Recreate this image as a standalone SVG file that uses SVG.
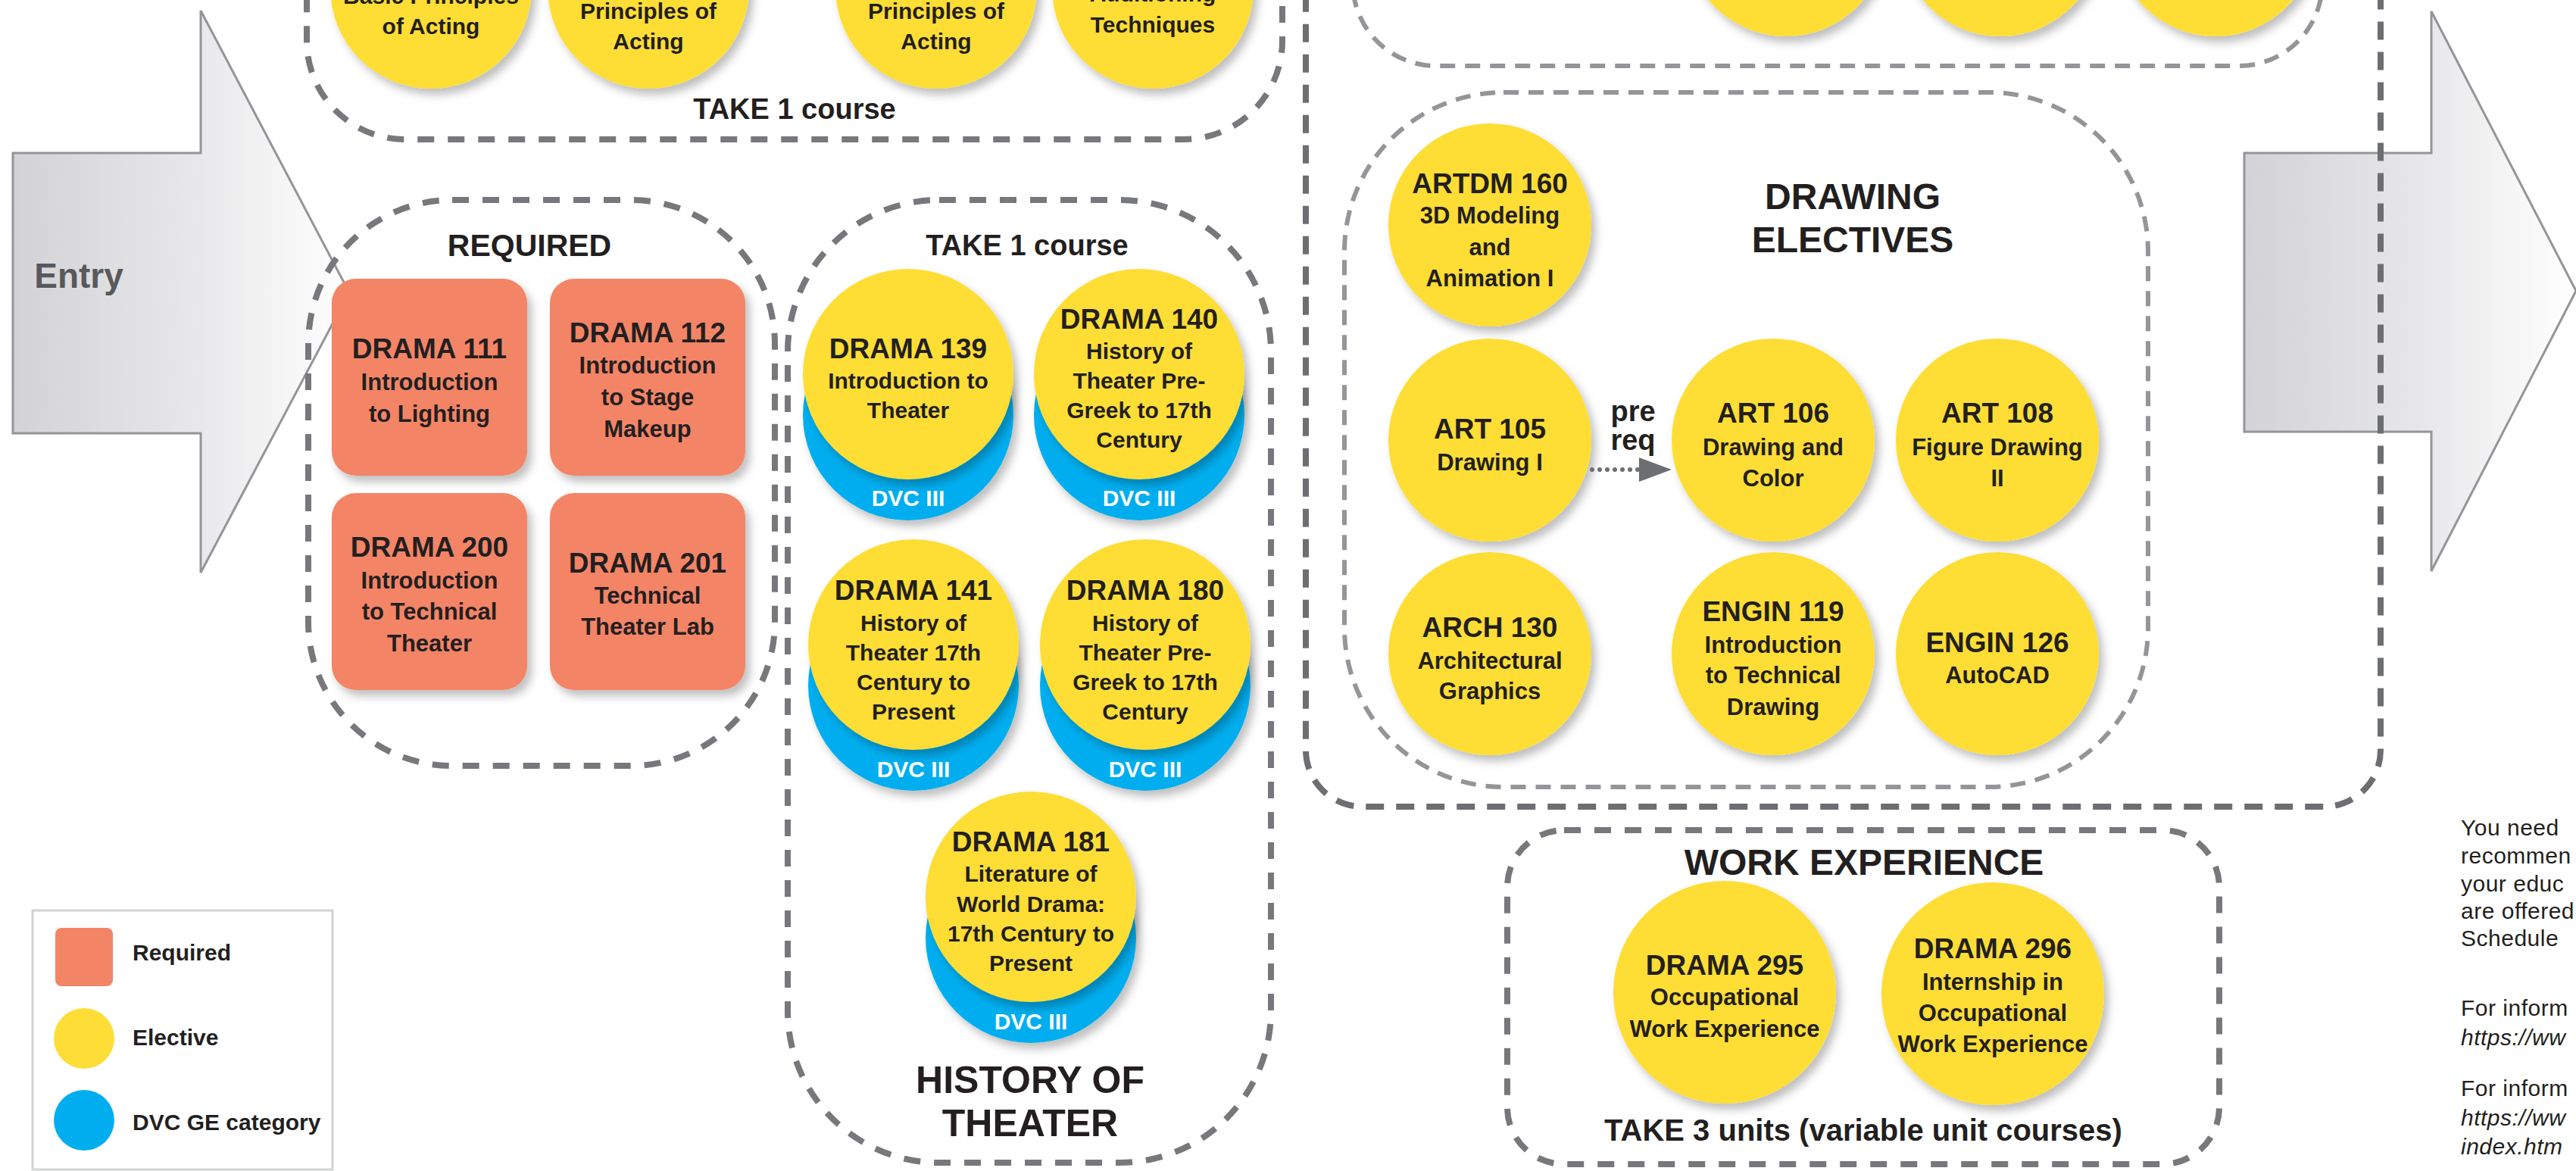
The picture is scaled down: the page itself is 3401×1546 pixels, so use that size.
<svg xmlns="http://www.w3.org/2000/svg" width="3401" height="1546" viewBox="0 0 3401 1546">
<style>
.t{font-family:"Liberation Sans",Arial,sans-serif;font-weight:bold;fill:#231f20;text-anchor:middle}
.h{font-size:37px}
.s{font-size:31px}
.s2{font-size:30px}
.dvc{font-size:30px;fill:#fff}
.big{font-size:48px}
.mid{font-size:38px}
.grp{fill:none;stroke:#77787b;stroke-width:8;stroke-dasharray:22 18}
.outer{fill:none;stroke:#6d6e71;stroke-width:8;stroke-dasharray:24 16}
.grp2{fill:none;stroke:#939598;stroke-width:6;stroke-dasharray:20 13}
.y{fill:#fedd36;filter:url(#sh)}
.b{fill:#00aeef;filter:url(#sh)}
.o{fill:#f48466;filter:url(#sh)}
.arrow{fill:url(#ag);stroke:#939598;stroke-width:3}
.note{font-family:"Liberation Sans",Arial,sans-serif;font-size:30px;letter-spacing:0.5px;fill:#231f20}
.it{font-style:italic}
.leg{font-family:"Liberation Sans",Arial,sans-serif;font-weight:bold;font-size:30px;fill:#231f20}
</style>
<defs>
<filter id="sh" x="-20%" y="-20%" width="150%" height="150%">
<feDropShadow dx="6" dy="8" stdDeviation="6" flood-color="#000" flood-opacity="0.25"/>
</filter>
<linearGradient id="ag" x1="0" y1="0" x2="1" y2="0">
<stop offset="0" stop-color="#d3d3d7"/>
<stop offset="0.55" stop-color="#e8e8ea"/>
<stop offset="1" stop-color="#ffffff"/>
</linearGradient>
</defs>
<rect width="3401" height="1546" fill="#fff"/>

<g id="entry-arrow">
<path class="arrow" d="M17,202 H265 V14 L461,386 L265,756 V572 H17 Z"/>
<text x="104" y="380" style="font-family:'Liberation Sans',Arial,sans-serif;font-weight:bold;font-size:46px;fill:#58595b;text-anchor:middle">Entry</text>
</g>
<g id="exit-arrow">
<path class="arrow" d="M2963,202 H3210 V15 L3401,384 L3210,754 V570 H2963 Z"/>
</g>

<g id="groups">
<rect id="acting-box" class="grp" x="405" y="-250" width="1288" height="434" rx="130"/>
<rect id="required-box" class="grp" x="407" y="264" width="616" height="747" rx="190"/>
<rect id="history-box" class="grp" x="1040" y="264" width="638" height="1271" rx="200"/>
<rect id="outer-box" class="outer" x="1724" y="-300" width="1419" height="1365" rx="75"/>
<rect id="top-right-box" class="grp2" x="1786" y="-300" width="1280" height="387" rx="110"/>
<rect id="drawing-box" class="grp2" x="1775" y="122" width="1061" height="917" rx="210"/>
<rect id="work-box" class="grp" x="1990" y="1096" width="940" height="441" rx="75"/>
</g>

<g id="labels">
<text class="t mid" x="1049" y="157">TAKE 1 course</text>
<text class="t" style="font-size:41px" x="699" y="338">REQUIRED</text>
<text class="t mid" x="1356" y="337">TAKE 1 course</text>
<text class="t" style="font-size:50px" x="1360" y="1443">HISTORY OF</text>
<text class="t" style="font-size:50px" x="1360" y="1500">THEATER</text>
<text class="t big" x="2446" y="276">DRAWING</text>
<text class="t big" x="2446" y="333">ELECTIVES</text>
<text class="t big" x="2461" y="1155">WORK EXPERIENCE</text>
<text class="t" style="font-size:40px" x="2460" y="1506">TAKE 3 units (variable unit courses)</text>
</g>

<g id="acting1"><circle class="y" cx="569" cy="-16" r="133"/>
<text class="t s2" x="569" y="5">Basic Principles</text><text class="t s2" x="569" y="45">of Acting</text></g>
<g id="acting2"><circle class="y" cx="856" cy="-16" r="133"/>
<text class="t s2" x="856" y="25">Principles of</text><text class="t s2" x="856" y="65">Acting</text></g>
<g id="acting3"><circle class="y" cx="1236" cy="-16" r="133"/>
<text class="t s2" x="1236" y="25">Principles of</text><text class="t s2" x="1236" y="65">Acting</text></g>
<g id="acting4"><circle class="y" cx="1522" cy="-16" r="133"/>
<text class="t s2" x="1522" y="2">Auditioning</text><text class="t s2" x="1522" y="43">Techniques</text></g>

<g id="top-c1"><circle class="y" cx="2358" cy="-85" r="133"/></g>
<g id="top-c2"><circle class="y" cx="2641" cy="-85" r="133"/></g>
<g id="top-c3"><circle class="y" cx="2925" cy="-85" r="133"/></g>

<g id="drama111"><rect class="o" x="438" y="368" width="258" height="260" rx="32"/>
<text class="t h" x="567" y="473">DRAMA 111</text><text class="t s" x="567" y="515">Introduction</text><text class="t s" x="567" y="557">to Lighting</text></g>
<g id="drama112"><rect class="o" x="726" y="368" width="258" height="260" rx="32"/>
<text class="t h" x="855" y="452">DRAMA 112</text><text class="t s" x="855" y="493">Introduction</text><text class="t s" x="855" y="535">to Stage</text><text class="t s" x="855" y="577">Makeup</text></g>
<g id="drama200"><rect class="o" x="438" y="651" width="258" height="260" rx="32"/>
<text class="t h" x="567" y="735">DRAMA 200</text><text class="t s" x="567" y="777">Introduction</text><text class="t s" x="567" y="818">to Technical</text><text class="t s" x="567" y="860">Theater</text></g>
<g id="drama201"><rect class="o" x="726" y="651" width="258" height="260" rx="32"/>
<text class="t h" x="855" y="756">DRAMA 201</text><text class="t s" x="855" y="797">Technical</text><text class="t s" x="855" y="838">Theater Lab</text></g>

<g id="drama139"><circle class="b" cx="1199" cy="548" r="139"/><circle class="y" cx="1199" cy="494" r="139"/>
<text class="t h" x="1199" y="473">DRAMA 139</text><text class="t s2" x="1199" y="513">Introduction to</text><text class="t s2" x="1199" y="552">Theater</text>
<text class="t dvc" x="1199" y="668">DVC III</text></g>
<g id="drama140"><circle class="b" cx="1504" cy="548" r="139"/><circle class="y" cx="1504" cy="494" r="139"/>
<text class="t h" x="1504" y="434">DRAMA 140</text><text class="t s2" x="1504" y="474">History of</text><text class="t s2" x="1504" y="513">Theater Pre-</text><text class="t s2" x="1504" y="552">Greek to 17th</text><text class="t s2" x="1504" y="591">Century</text>
<text class="t dvc" x="1504" y="668">DVC III</text></g>
<g id="drama141"><circle class="b" cx="1206" cy="905" r="139"/><circle class="y" cx="1206" cy="851" r="139"/>
<text class="t h" x="1206" y="792">DRAMA 141</text><text class="t s2" x="1206" y="833">History of</text><text class="t s2" x="1206" y="872">Theater 17th</text><text class="t s2" x="1206" y="911">Century to</text><text class="t s2" x="1206" y="950">Present</text>
<text class="t dvc" x="1206" y="1026">DVC III</text></g>
<g id="drama180"><circle class="b" cx="1512" cy="905" r="139"/><circle class="y" cx="1512" cy="851" r="139"/>
<text class="t h" x="1512" y="792">DRAMA 180</text><text class="t s2" x="1512" y="833">History of</text><text class="t s2" x="1512" y="872">Theater Pre-</text><text class="t s2" x="1512" y="911">Greek to 17th</text><text class="t s2" x="1512" y="950">Century</text>
<text class="t dvc" x="1512" y="1026">DVC III</text></g>
<g id="drama181"><circle class="b" cx="1361" cy="1238" r="139"/><circle class="y" cx="1361" cy="1184" r="139"/>
<text class="t h" x="1361" y="1124">DRAMA 181</text><text class="t s2" x="1361" y="1164">Literature of</text><text class="t s2" x="1361" y="1204">World Drama:</text><text class="t s2" x="1361" y="1243">17th Century to</text><text class="t s2" x="1361" y="1282">Present</text>
<text class="t dvc" x="1361" y="1359">DVC III</text></g>

<g id="artdm160"><circle class="y" cx="1967" cy="297" r="134"/>
<text class="t h" x="1967" y="255">ARTDM 160</text><text class="t s" x="1967" y="295">3D Modeling</text><text class="t s" x="1967" y="337">and</text><text class="t s" x="1967" y="378">Animation I</text></g>
<g id="art105"><circle class="y" cx="1967" cy="581" r="134"/>
<text class="t h" x="1967" y="579">ART 105</text><text class="t s" x="1967" y="621">Drawing I</text></g>
<g id="art106"><circle class="y" cx="2341" cy="581" r="134"/>
<text class="t h" x="2341" y="558">ART 106</text><text class="t s" x="2341" y="601">Drawing and</text><text class="t s" x="2341" y="642">Color</text></g>
<g id="art108"><circle class="y" cx="2637" cy="581" r="134"/>
<text class="t h" x="2637" y="558">ART 108</text><text class="t s" x="2637" y="601">Figure Drawing</text><text class="t s" x="2637" y="642">II</text></g>
<g id="arch130"><circle class="y" cx="1967" cy="863" r="134"/>
<text class="t h" x="1967" y="841">ARCH 130</text><text class="t s" x="1967" y="883">Architectural</text><text class="t s" x="1967" y="923">Graphics</text></g>
<g id="engin119"><circle class="y" cx="2341" cy="863" r="134"/>
<text class="t h" x="2341" y="820">ENGIN 119</text><text class="t s" x="2341" y="862">Introduction</text><text class="t s" x="2341" y="902">to Technical</text><text class="t s" x="2341" y="944">Drawing</text></g>
<g id="engin126"><circle class="y" cx="2637" cy="863" r="134"/>
<text class="t h" x="2637" y="861">ENGIN 126</text><text class="t s" x="2637" y="902">AutoCAD</text></g>

<g id="connectors">
<line x1="2102" y1="620" x2="2166" y2="620" stroke="#6d6e71" stroke-width="6" stroke-linecap="round" stroke-dasharray="0 10"/>
<polygon points="2164,604 2207,620 2164,636" fill="#6d6e71"/>
<text class="t mid" x="2156" y="556">pre</text>
<text class="t mid" x="2156" y="594">req</text>
</g>

<g id="drama295"><circle class="y" cx="2277" cy="1310" r="147"/>
<text class="t h" x="2277" y="1287">DRAMA 295</text><text class="t s" x="2277" y="1327">Occupational</text><text class="t s" x="2277" y="1369">Work Experience</text></g>
<g id="drama296"><circle class="y" cx="2631" cy="1312" r="147"/>
<text class="t h" x="2631" y="1265">DRAMA 296</text><text class="t s" x="2631" y="1307">Internship in</text><text class="t s" x="2631" y="1348">Occupational</text><text class="t s" x="2631" y="1389">Work Experience</text></g>

<g id="legend">
<rect x="43" y="1202" width="396" height="342" fill="#fff" stroke="#d1d3d4" stroke-width="3"/>
<rect x="73" y="1225" width="76" height="77" rx="8" fill="#f48466"/>
<circle cx="111" cy="1371" r="40" fill="#fedd36"/>
<circle cx="111" cy="1479" r="40" fill="#00aeef"/>
<text class="leg" x="175" y="1268">Required</text>
<text class="leg" x="175" y="1380">Elective</text>
<text class="leg" x="175" y="1492">DVC GE category</text>
</g>

<g id="notes">
<text class="note" x="3249" y="1103">You need</text>
<text class="note" x="3249" y="1140">recommen</text>
<text class="note" x="3249" y="1177">your educ</text>
<text class="note" x="3249" y="1213">are offered</text>
<text class="note" x="3249" y="1249">Schedule</text>
<text class="note" x="3249" y="1341">For inform</text>
<text class="note it" x="3249" y="1380">https://ww</text>
<text class="note" x="3249" y="1447">For inform</text>
<text class="note it" x="3249" y="1486">https://ww</text>
<text class="note it" x="3249" y="1524">index.htm</text>
</g>
</svg>
